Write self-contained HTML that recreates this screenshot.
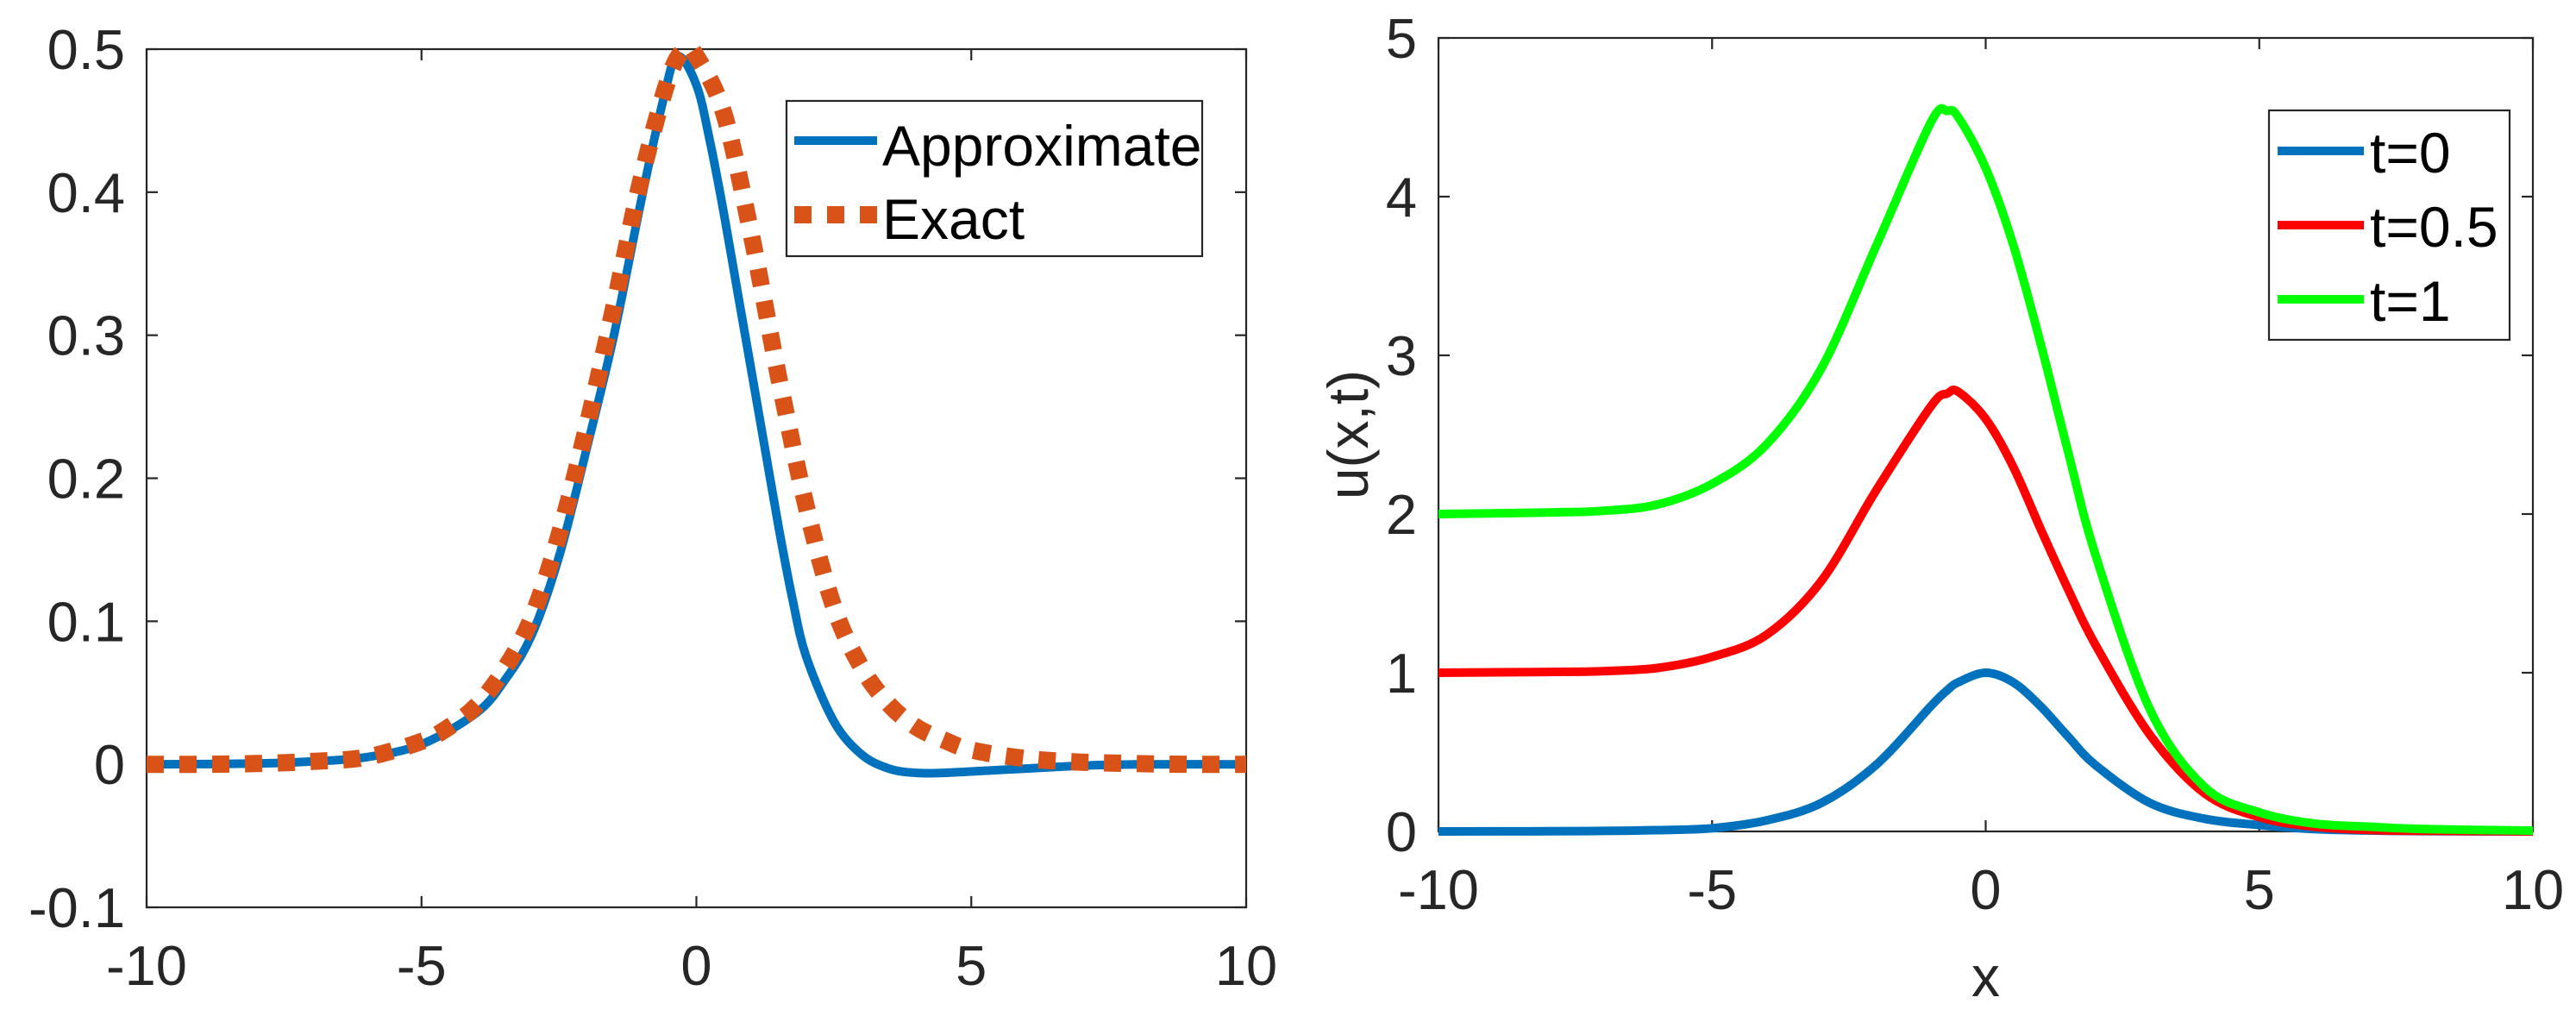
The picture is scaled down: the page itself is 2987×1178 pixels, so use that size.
<!DOCTYPE html>
<html><head><meta charset="utf-8"><style>
html,body{margin:0;padding:0;background:#fff;}
svg{display:block;font-family:"Liberation Sans",Arial,sans-serif;}
</style></head><body>
<svg id="fig" width="2987" height="1178" viewBox="0 0 2987 1178" xmlns="http://www.w3.org/2000/svg"></svg>
<script>
// Left chart data
const leftExactX = [-10,-9,-8,-7,-6,-5,-4.5,-4,-3.5,-3,-2.5,-2,-1.5,-1,-0.5,-0.2,0,0.5,1,1.5,2,2.5,3,3.5,4,4.5,5,6,7,8,9,10];
const leftExactY = [0,0,0.0005,0.002,0.005,0.016,0.026,0.041,0.066,0.102,0.16,0.235,0.32,0.41,0.48,0.5,0.495,0.455,0.37,0.27,0.18,0.11,0.068,0.042,0.026,0.017,0.01,0.004,0.0015,0.0005,0,0];
const leftApproxX = [-10,-8,-7,-6,-5,-4,-3.5,-3,-2.5,-2,-1.5,-1,-0.6,-0.35,0,0.25,0.5,0.75,1,1.25,1.5,1.75,2,2.5,3,3.5,4,4.5,5,6,7,8,10];
const leftApproxY = [0,0.0005,0.002,0.005,0.014,0.036,0.058,0.09,0.145,0.22,0.3,0.395,0.465,0.495,0.475,0.435,0.385,0.33,0.275,0.22,0.165,0.115,0.075,0.03,0.007,-0.003,-0.006,-0.006,-0.005,-0.003,-0.001,0,0];
const leftXTicks = [-10,-5,0,5,10];
const leftYTicks = [-0.1,0,0.1,0.2,0.3,0.4,0.5];
const leftYTickLabels = ["-0.1","0","0.1","0.2","0.3","0.4","0.5"];
// Right chart data
const rightX = [-10,-8,-7,-6,-5,-4,-3,-2,-1,-0.7,-0.5,0,0.5,1,1.5,2,3,4,5,6,7,8,10];
const rightT0 = [0,0.001,0.003,0.008,0.02,0.07,0.18,0.42,0.79,0.89,0.94,1.0,0.94,0.79,0.6,0.42,0.18,0.08,0.04,0.015,0.006,0.002,0];
const rightT05 = [1,1.005,1.01,1.03,1.1,1.24,1.58,2.15,2.68,2.76,2.77,2.6,2.3,1.91,1.53,1.18,0.61,0.24,0.09,0.03,0.01,0.004,0];
const rightT1 = [2,2.01,2.02,2.06,2.19,2.44,2.92,3.69,4.47,4.54,4.5,4.18,3.7,3.08,2.4,1.75,0.77,0.28,0.12,0.05,0.03,0.015,0.005];
const rightXTicks = [-10,-5,0,5,10];
const rightYTicks = [0,1,2,3,4,5];

const NS = "http://www.w3.org/2000/svg";
const svg = document.getElementById('fig');
function el(tag, attrs, parent){ const e=document.createElementNS(NS,tag); for(const k in attrs) e.setAttribute(k,attrs[k]); (parent||svg).appendChild(e); return e; }
function pathFrom(xs, ys, sx, sy){
  const P = xs.map((x,i)=>[sx(x), sy(ys[i])]);
  let d = "M"+P[0][0].toFixed(1)+","+P[0][1].toFixed(1);
  for(let i=0;i<P.length-1;i++){
    const p0=P[Math.max(0,i-1)], p1=P[i], p2=P[i+1], p3=P[Math.min(P.length-1,i+2)];
    const c1=[p1[0]+(p2[0]-p0[0])/6, p1[1]+(p2[1]-p0[1])/6];
    const c2=[p2[0]-(p3[0]-p1[0])/6, p2[1]-(p3[1]-p1[1])/6];
    d+=" C"+c1[0].toFixed(1)+","+c1[1].toFixed(1)+" "+c2[0].toFixed(1)+","+c2[1].toFixed(1)+" "+p2[0].toFixed(1)+","+p2[1].toFixed(1);
  }
  return d;
}
function axes(g, L, T, R, B, sx, sy, xt, yt, ylab, prefix){
  const box = el('rect',{x:L,y:T,width:R-L,height:B-T,fill:'none',stroke:'#262626','stroke-width':2.2},g);
  
  
  xt.forEach(v=>{
    const x=sx(v);
    el('line',{x1:x,y1:B,x2:x,y2:B-13,stroke:'#262626','stroke-width':2.2},g);
    el('line',{x1:x,y1:T,x2:x,y2:T+13,stroke:'#262626','stroke-width':2.2},g);
    const t=el('text',{x:x,y:B+90,'text-anchor':'middle','font-size':65,fill:'#262626'},g);
    t.textContent=String(v);
    
    
  });
  yt.forEach((v,i)=>{
    const y=sy(v);
    el('line',{x1:L,y1:y,x2:L+13,y2:y,stroke:'#262626','stroke-width':2.2},g);
    el('line',{x1:R,y1:y,x2:R-13,y2:y,stroke:'#262626','stroke-width':2.2},g);
    const t=el('text',{x:L-25,y:y+23,'text-anchor':'end','font-size':65,fill:'#262626'},g);
    t.textContent=ylab[i];
    
    
  });
}

// LEFT PLOT
const lg = el('g',{});


const LL=170, LT=57, LR=1445, LB=1052;
const lsx = v => LL + (v+10)/20*(LR-LL);
const lsy = v => LB - (v+0.1)/0.6*(LB-LT);
axes(lg, LL, LT, LR, LB, lsx, lsy, leftXTicks, leftYTicks, leftYTickLabels, 'left');
const ap = el('path',{d:pathFrom(leftApproxX,leftApproxY,lsx,lsy),fill:'none',stroke:'#0072BD','stroke-width':10},lg);


const ex = el('path',{d:pathFrom(leftExactX,leftExactY,lsx,lsy),fill:'none',stroke:'#D95319','stroke-width':20,'stroke-dasharray':'20 18'},lg);


// left legend
const leg1 = el('g',{},lg);


el('rect',{x:912,y:117,width:482,height:180,fill:'#fff',stroke:'#262626','stroke-width':2.2},leg1);
el('line',{x1:921,y1:163,x2:1017,y2:163,stroke:'#0072BD','stroke-width':10},leg1);
el('line',{x1:921,y1:249,x2:1017,y2:249,stroke:'#D95319','stroke-width':20,'stroke-dasharray':'20 18'},leg1);
const lt1=el('text',{x:1023,y:192,'font-size':66,fill:'#000'},leg1); lt1.textContent='Approximate';


const lt2=el('text',{x:1023,y:277,'font-size':66,fill:'#000'},leg1); lt2.textContent='Exact';



// RIGHT PLOT
const rg = el('g',{});


const RL=1668, RT=44, RR=2937, RB=964;
const rsx = v => RL + (v+10)/20*(RR-RL);
const rsy = v => RB - v/5*(RB-RT);
axes(rg, RL, RT, RR, RB, rsx, rsy, rightXTicks, rightYTicks, rightYTicks.map(String), 'right');
[[rightT0,'#0072BD','t0'],[rightT05,'#FF0000','t05'],[rightT1,'#00FF00','t1']].forEach(s=>{
  const p=el('path',{d:pathFrom(rightX,s[0],rsx,rsy),fill:'none',stroke:s[1],'stroke-width':10},rg);
  
  
});
const xl=el('text',{x:(RL+RR)/2,y:1155,'text-anchor':'middle','font-size':66,fill:'#262626'},rg); xl.textContent='x';


const yl=el('text',{x:0,y:0,'text-anchor':'middle','font-size':66,fill:'#262626',transform:'translate(1586,504) rotate(-90)'},rg); yl.textContent='u(x,t)';


const leg2 = el('g',{},rg);


el('rect',{x:2631,y:128,width:279,height:266,fill:'#fff',stroke:'#262626','stroke-width':2.2},leg2);
[['t=0','#0072BD',175,200],['t=0.5','#FF0000',261,286],['t=1','#00FF00',347,372]].forEach(e=>{
  el('line',{x1:2641,y1:e[2],x2:2741,y2:e[2],stroke:e[1],'stroke-width':10},leg2);
  const t=el('text',{x:2748,y:e[3],'font-size':66,fill:'#000'},leg2); t.textContent=e[0];
  
  
});
</script>
</body></html>
